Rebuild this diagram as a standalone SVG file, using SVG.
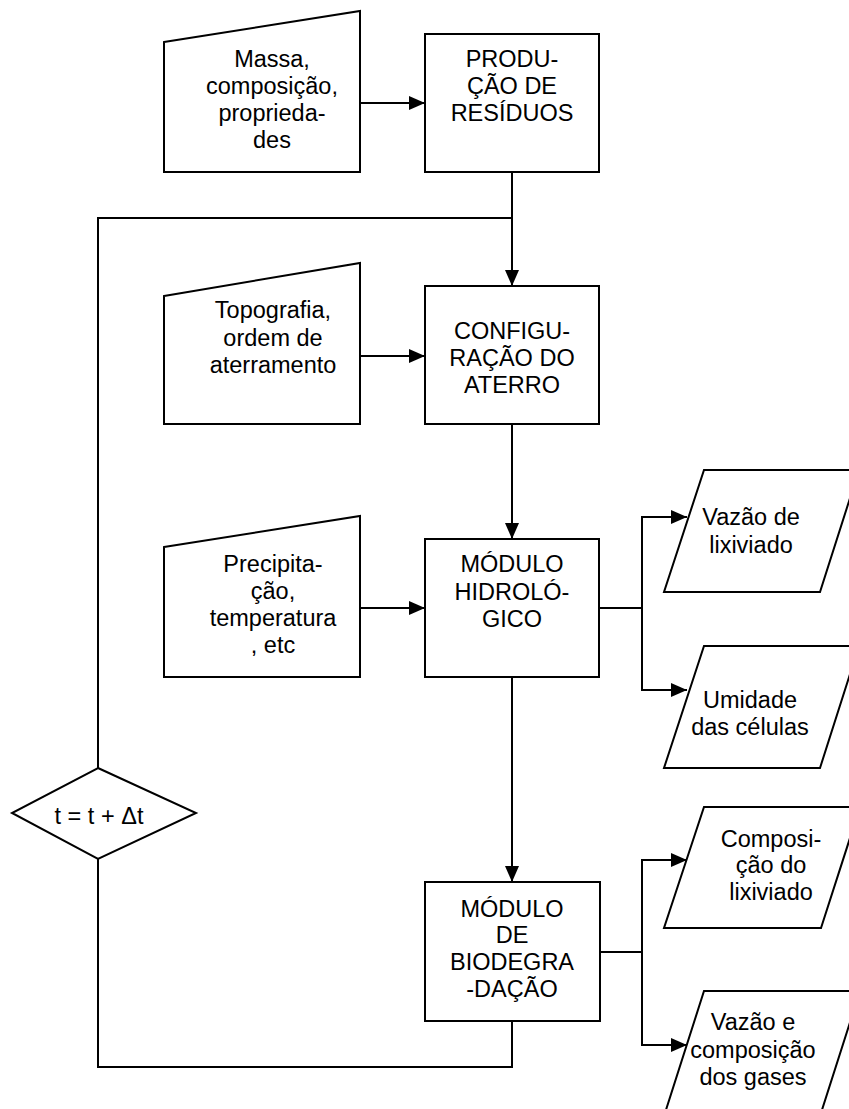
<svg xmlns="http://www.w3.org/2000/svg" width="849" height="1109" viewBox="0 0 849 1109">
<defs>
<style>
.s{fill:#fff;stroke:#000;stroke-width:2}
.c{fill:none;stroke:#000;stroke-width:2}
.t{font-family:"Liberation Sans",Arial,sans-serif;font-size:23.5px;fill:#000;text-anchor:middle}
</style>
<marker id="ah" markerWidth="16" markerHeight="14" refX="16" refY="7" orient="auto" markerUnits="userSpaceOnUse">
<path d="M0,0 L16,7 L0,14 z" fill="#000"/>
</marker>
</defs>
<rect width="849" height="1109" fill="#fff"/>
<g id="connectors">
<path class="c" d="M360,103 H425" marker-end="url(#ah)"/>
<path class="c" d="M512,172 V286" marker-end="url(#ah)"/>
<path class="c" d="M98,768 V218 H512"/>
<path class="c" d="M360,356 H425" marker-end="url(#ah)"/>
<path class="c" d="M512,424 V539" marker-end="url(#ah)"/>
<path class="c" d="M360,608 H425" marker-end="url(#ah)"/>
<path class="c" d="M512,677 V882" marker-end="url(#ah)"/>
<path class="c" d="M599,608 H642"/>
<path class="c" d="M642,608 V517 H687" marker-end="url(#ah)"/>
<path class="c" d="M642,608 V690 H687" marker-end="url(#ah)"/>
<path class="c" d="M600,952 H642"/>
<path class="c" d="M642,952 V860 H687" marker-end="url(#ah)"/>
<path class="c" d="M642,952 V1045 H687" marker-end="url(#ah)"/>
<path class="c" d="M512,1021 V1067 H98 V859"/>
</g>
<g id="in1">
<path class="s" d="M164,42 L360,11 V172 H164 Z"/>
<text class="t"><tspan x="272" y="67">Massa,</tspan><tspan x="272" y="94">composição,</tspan><tspan x="272" y="121">proprieda-</tspan><tspan x="272" y="148">des</tspan></text>
</g>
<g id="producao">
<rect class="s" x="425" y="34" width="174" height="138"/>
<text class="t"><tspan x="512" y="67">PRODU-</tspan><tspan x="512" y="94">ÇÃO DE</tspan><tspan x="512" y="121">RESÍDUOS</tspan></text>
</g>
<g id="in2">
<path class="s" d="M164,296 L360,263 V424 H164 Z"/>
<text class="t"><tspan x="273" y="318">Topografia,</tspan><tspan x="273" y="346">ordem de</tspan><tspan x="273" y="373">aterramento</tspan></text>
</g>
<g id="configuracao">
<rect class="s" x="425" y="286" width="174" height="138"/>
<text class="t"><tspan x="512" y="339">CONFIGU-</tspan><tspan x="512" y="366">RAÇÃO DO</tspan><tspan x="512" y="393">ATERRO</tspan></text>
</g>
<g id="in3">
<path class="s" d="M164,547 L360,516 V677 H164 Z"/>
<text class="t"><tspan x="273" y="572">Precipita-</tspan><tspan x="273" y="599">ção,</tspan><tspan x="273" y="626">temperatura</tspan><tspan x="273" y="653">, etc</tspan></text>
</g>
<g id="hidrologico">
<rect class="s" x="425" y="539" width="174" height="138"/>
<text class="t"><tspan x="512" y="572">MÓDULO</tspan><tspan x="512" y="600">HIDROLÓ-</tspan><tspan x="512" y="627">GICO</tspan></text>
</g>
<g id="biodegradacao">
<rect class="s" x="425" y="882" width="175" height="139"/>
<text class="t"><tspan x="512" y="917">MÓDULO</tspan><tspan x="512" y="943">DE</tspan><tspan x="512" y="970">BIODEGRA</tspan><tspan x="512" y="997">-DAÇÃO</tspan></text>
</g>
<g id="out1">
<path class="s" d="M704,470 H859 L820,592 H664 Z"/>
<text class="t"><tspan x="751" y="525">Vazão de</tspan><tspan x="751" y="553">lixiviado</tspan></text>
</g>
<g id="out2">
<path class="s" d="M704,646 H859 L820,768 H664 Z"/>
<text class="t"><tspan x="750" y="708">Umidade</tspan><tspan x="750" y="735">das células</tspan></text>
</g>
<g id="out3">
<path class="s" d="M704,807 H860 L821,928 H664 Z"/>
<text class="t"><tspan x="771" y="847">Composi-</tspan><tspan x="771" y="873">ção do</tspan><tspan x="771" y="900">lixiviado</tspan></text>
</g>
<g id="out4">
<path class="s" d="M704,991 H860 L821,1113 H665 Z"/>
<text class="t"><tspan x="753" y="1030">Vazão e</tspan><tspan x="753" y="1058">composição</tspan><tspan x="753" y="1085">dos gases</tspan></text>
</g>
<g id="loop">
<path class="s" d="M98,768 L196,813 L98,859 L12,813 Z"/>
<text class="t" x="99" y="824">t = t + Δt</text>
</g>
</svg>
